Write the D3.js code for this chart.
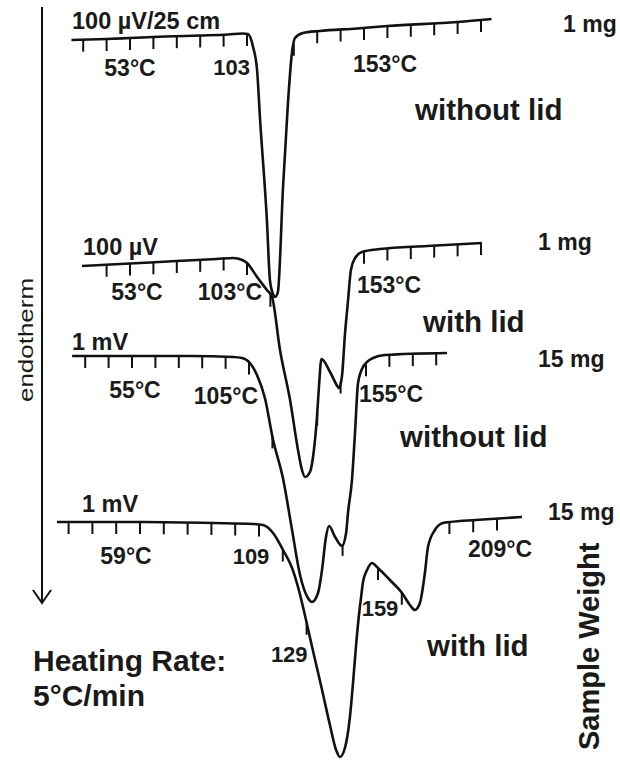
<!DOCTYPE html>
<html>
<head>
<meta charset="utf-8">
<script src="https://cdn.jsdelivr.net/npm/d3@7"></script>
<style>
body { margin: 0; background: #fff; }
svg text { font-family: "Liberation Sans", Arial, sans-serif; font-weight: bold; fill: #1a1a1a; }
</style>
</head>
<body>
<script>
const w = 620; // width
const h = 760; // height

// curve 1: 1 mg, without lid (temperature in °C, signal in chart units, down = endotherm)
const c1Temp = [28, 43, 53, 68, 83, 95, 101, 103.4, 105.6, 107.3, 108.6, 111.5, 112.8, 114.1, 115, 116.2, 118.4, 120.5, 122.2, 123.5, 126.9, 134, 150, 163, 193, 207.5];
const c1Signal = [0, 0.1, 0.2, 0.35, 0.45, 0.55, 0.65, 0.6, -0.7, -3.0, -8.0, -18.0, -24.0, -25.4, -25.7, -25.2, -14.7, -6.3, -1.3, 0.2, 0.7, 0.9, 1.15, 1.4, 1.8, 2.1];
const c1Ticks = [33, 43, 53, 63, 73, 83, 93, 103, 123, 133, 143, 153, 163, 173, 183, 193, 203];
const c1Labels = ["53°C", "103", "153°C"];
const c1LabelTemps = [53, 103, 153];

// curve 2: 1 mg, with lid
const c2Temp = [32.5, 53, 73, 90, 97, 101, 103, 107.3, 111.5, 113.7, 117.1, 121.4, 124.8, 126.5, 127.8, 129.9, 131.6, 132.9, 133.8, 134.8, 138.5, 141.9, 142.3, 143.6, 144.9, 146.2, 147.4, 149.2, 152.1, 159.8, 180, 203.4];
const c2Signal = [0, 0.25, 0.5, 0.7, 0.8, 0.6, 0.3, -1.1, -2.4, -3.1, -8.4, -13.4, -18.4, -20.4, -21.1, -20.6, -18.4, -15.1, -11.9, -9.3, -10.6, -12.1, -12.2, -11.0, -6.7, -3.4, -0.4, 0.8, 1.4, 1.7, 2.0, 2.3];
const c2Ticks = [43, 53, 63, 73, 83, 93, 103, 113, 133, 143, 153, 163, 173, 183, 193, 203];
const c2Labels = ["53°C", "103°C", "153°C"];
const c2LabelTemps = [53, 103, 153];

// curve 3: 15 mg, without lid
const c3Temp = [29.4, 55, 80, 98.2, 102, 105.4, 108.4, 111.8, 115.3, 119.5, 123.4, 126.8, 130.2, 131.9, 134.5, 136.2, 137.9, 139.2, 141.8, 144.7, 146.5, 147.3, 149, 150.3, 151.6, 153.7, 158, 163.1, 189.6];
const c3Signal = [0, 0, 0, -0.1, -0.2, -0.7, -1.9, -4.2, -8.4, -12.2, -17.4, -21.9, -24.2, -24.6, -23.7, -21.4, -18.1, -17.0, -18.1, -19.0, -17.7, -15.7, -12.4, -7.7, -2.7, -1.1, -0.2, 0.1, 0.3];
const c3Ticks = [35, 45, 55, 65, 75, 85, 95, 105, 115, 145, 155, 165, 175, 185];
const c3Labels = ["55°C", "105°C", "155°C"];
const c3LabelTemps = [55, 105, 155];

// curve 4: 15 mg, with lid
const c4Temp = [24.1, 60, 90, 106.5, 110.7, 114.9, 119.1, 122.9, 125.4, 127.5, 129.6, 131.7, 135.5, 138.8, 141.4, 143, 145.1, 147.2, 148.5, 149.8, 151, 151.9, 152.7, 154.4, 156.5, 159, 164, 169.1, 172.4, 174.5, 176.6, 178.7, 180, 182.9, 186.3, 189.3, 200, 219.5];
const c4Signal = [0, 0, -0.1, -0.2, -0.3, -1.1, -2.8, -4.6, -6.5, -8.5, -10.7, -12.9, -16.8, -20.3, -22.8, -23.5, -22.6, -19.5, -16.1, -12.3, -9.3, -7.5, -6.0, -4.8, -4.1, -4.6, -5.8, -7.1, -8.3, -8.8, -8.1, -5.1, -2.5, -0.8, -0.1, 0, 0.2, 0.5];
const c4Ticks = [29, 39, 49, 59, 69, 79, 89, 99, 109, 119, 129, 159, 169, 189, 199, 209];
const c4Labels = ["59°C", "109", "129", "159", "209°C"];
const c4LabelTemps = [59, 109, 129, 159, 209];

// side texts
const scaleTexts = ["100 µV/25 cm", "100 µV", "1 mV", "1 mV"];
const weightTexts = ["1 mg", "1 mg", "15 mg", "15 mg"];
const lidTexts = ["without lid", "with lid", "without lid", "with lid"];

// layout of each trace: temperature anchors -> pixels, baseline y, label placement
const curves = [
    { temp: c1Temp, signal: c1Signal, ticks: c1Ticks, labels: c1Labels, labelTemps: c1LabelTemps,
      dom: [53, 103], rng: [130, 247], baseY: 40,
      labelDx: [0, 3, -11], labelY: [76, 75, 72], anchor: ["middle", "end", "start"],
      scalePos: [72, 29], weightPos: [563, 32], lidPos: [415, 120] },
    { temp: c2Temp, signal: c2Signal, ticks: c2Ticks, labels: c2Labels, labelTemps: c2LabelTemps,
      dom: [53, 103], rng: [130, 247], baseY: 266,
      labelDx: [7, 15, -7], labelY: [300, 300, 293], anchor: ["middle", "end", "start"],
      scalePos: [83, 255], weightPos: [538, 250], lidPos: [423, 332] },
    { temp: c3Temp, signal: c3Signal, ticks: c3Ticks, labels: c3Labels, labelTemps: c3LabelTemps,
      dom: [55, 105], rng: [132, 249], baseY: 356,
      labelDx: [3, 9, -7], labelY: [398, 404, 402], anchor: ["middle", "end", "start"],
      scalePos: [72, 350], weightPos: [538, 367], lidPos: [400, 447] },
    { temp: c4Temp, signal: c4Signal, ticks: c4Ticks, labels: c4Labels, labelTemps: c4LabelTemps,
      dom: [109, 209], rng: [259, 497], baseY: 522,
      labelDx: [-14, -8, 1, 2, 3], labelY: [564, 564, 662, 616, 557], anchor: ["middle", "middle", "end", "middle", "middle"],
      scalePos: [82, 512], weightPos: [548, 520], lidPos: [427, 656] }
];

let svg = d3.select("body")
    .append("svg")
    .attr("width", w)
    .attr("height", h);

// signal -> vertical offset from the trace baseline
let sig = d3.scaleLinear()
    .domain([0, 10])
    .range([0, -100]);

let bisect = d3.bisector((d) => d[0]).right;

curves.forEach((c, k) => {
    let x = d3.scaleLinear().domain(c.dom).range(c.rng);
    let y = (s) => c.baseY + sig(s);
    let pts = c.temp.map((t, i) => [t, c.signal[i]]);

    // signal at a tick temperature (straight between read points)
    let at = (t) => {
        let i = Math.min(Math.max(bisect(pts, t), 1), pts.length - 1);
        let a = pts[i - 1], b = pts[i];
        return a[1] + (b[1] - a[1]) * (t - a[0]) / (b[0] - a[0]);
    };

    let line = d3.line()
        .x((d) => x(d[0]))
        .y((d) => y(d[1]))
        .curve(d3.curveMonotoneX);

    svg.append("path")
        .datum(pts)
        .attr("d", line)
        .attr("fill", "none")
        .attr("stroke", "#111")
        .attr("stroke-width", 2.6)
        .attr("stroke-linejoin", "round");

    // ticks hang from the trace
    svg.append("g")
        .selectAll("line")
        .data(c.ticks)
        .enter()
        .append("line")
        .attr("x1", (t) => x(t))
        .attr("x2", (t) => x(t))
        .attr("y1", (t) => y(at(t)))
        .attr("y2", (t) => y(at(t)) + 12)
        .attr("stroke", "#111")
        .attr("stroke-width", 2);

    // temperature labels
    svg.append("g")
        .selectAll("text")
        .data(c.labels)
        .enter()
        .append("text")
        .attr("x", (d, i) => x(c.labelTemps[i]) + c.labelDx[i])
        .attr("y", (d, i) => c.labelY[i])
        .attr("text-anchor", (d, i) => c.anchor[i])
        .attr("font-size", (d) => d.length <= 3 ? 22 : 23)
        .text((d) => d);

    svg.append("text")
        .attr("x", c.scalePos[0])
        .attr("y", c.scalePos[1])
        .attr("font-size", 23.5)
        .text(scaleTexts[k]);

    svg.append("text")
        .attr("x", c.weightPos[0])
        .attr("y", c.weightPos[1])
        .attr("font-size", 23)
        .text(weightTexts[k]);

    svg.append("text")
        .attr("x", c.lidPos[0])
        .attr("y", c.lidPos[1])
        .attr("font-size", 29.5)
        .text(lidTexts[k]);
});

// endotherm arrow
svg.append("line")
    .attr("x1", 42).attr("x2", 42)
    .attr("y1", 7).attr("y2", 603)
    .attr("stroke", "#111")
    .attr("stroke-width", 2);
svg.append("path")
    .attr("d", "M33,590 L42,603 L51,590")
    .attr("fill", "none")
    .attr("stroke", "#111")
    .attr("stroke-width", 2);

svg.append("text")
    .attr("transform", "translate(33,402) rotate(-90)")
    .attr("font-size", 21)
    .style("font-weight", "normal")
    .attr("textLength", 124)
    .attr("lengthAdjust", "spacingAndGlyphs")
    .text("endotherm");

svg.append("text")
    .attr("transform", "translate(599,750) rotate(-90)")
    .attr("font-size", 29)
    .text("Sample Weight");

// heating rate note
svg.append("text")
    .attr("x", 33).attr("y", 671)
    .attr("font-size", 30)
    .text("Heating Rate:");
svg.append("text")
    .attr("x", 33).attr("y", 706)
    .attr("font-size", 30)
    .text("5°C/min");
</script>
</body>
</html>
